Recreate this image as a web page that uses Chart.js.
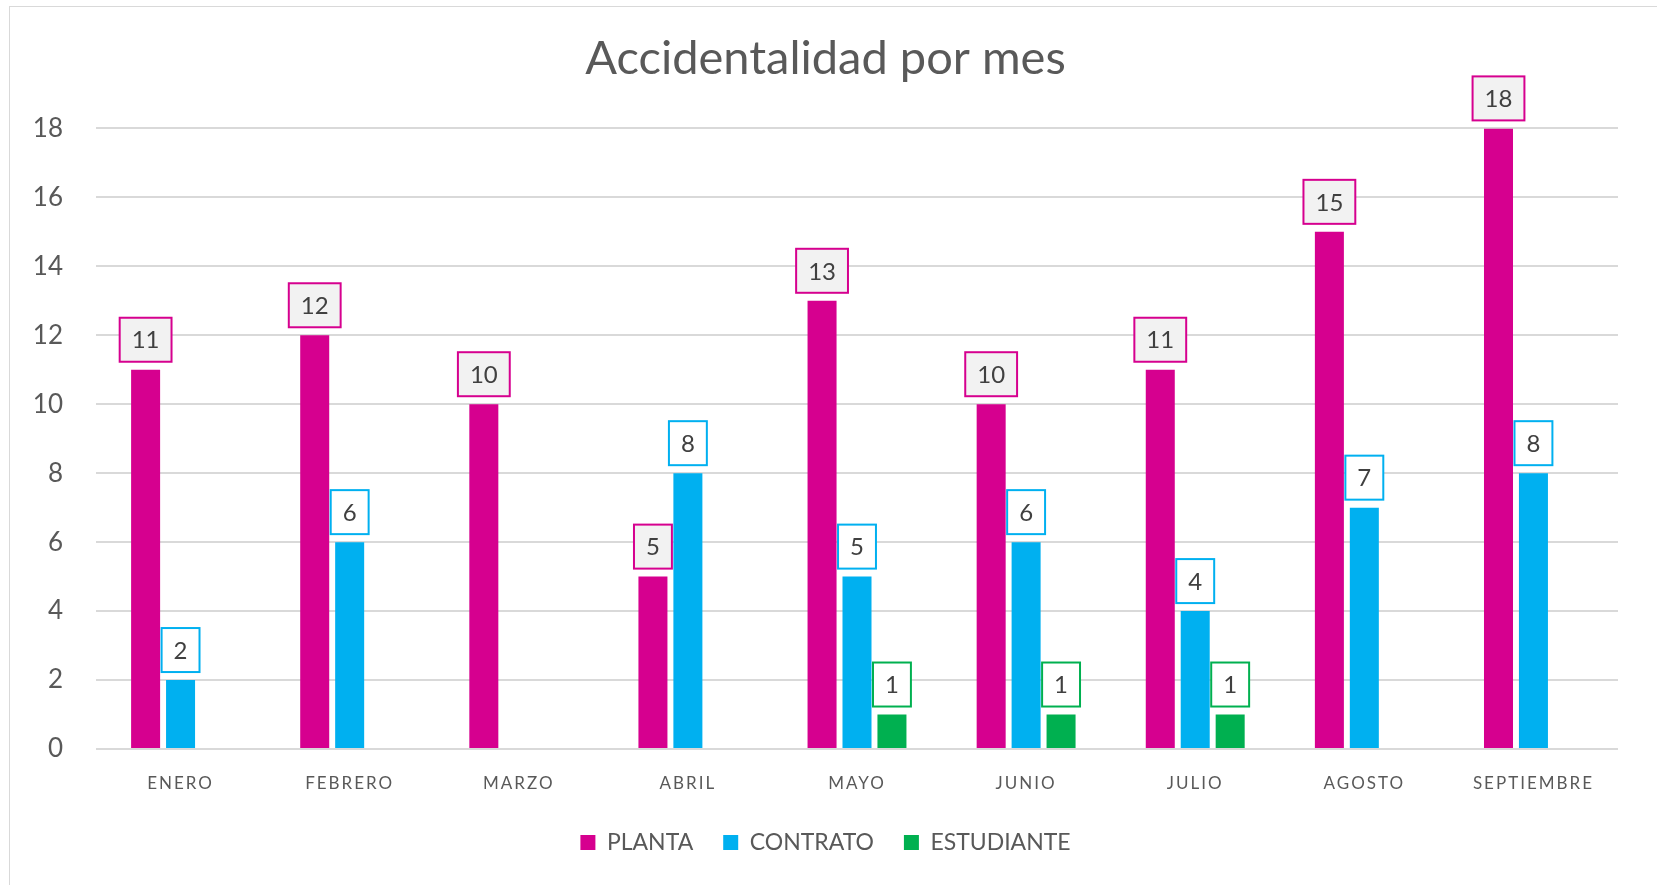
<!DOCTYPE html>
<html>
<head>
<meta charset="utf-8">
<script src="https://cdn.jsdelivr.net/npm/chart.js@4"></script>
<style>
  html, body { margin: 0; padding: 0; background: #fff; }
  #wrap { position: relative; width: 1657px; height: 885px; overflow: hidden; }
  #frame { position: absolute; left: 9px; top: 6px; width: 1660px; height: 900px; border: 1.5px solid #d9d9d9; box-sizing: border-box; pointer-events: none; }
  canvas { position: absolute; left: 0; top: 0; }
</style>
</head>
<body>
<div id="wrap">
  <canvas id="chart" width="1657" height="885"></canvas>
  <div id="frame"></div>
</div>
<script>
// Accidentalidad por mes -- barras agrupadas con etiquetas en recuadro
const months = ['ENERO', 'FEBRERO', 'MARZO', 'ABRIL', 'MAYO', 'JUNIO', 'JULIO', 'AGOSTO', 'SEPTIEMBRE'];
const planta = [11, 12, 10, 5, 13, 10, 11, 15, 18];
const contrato = [2, 6, null, 8, 5, 6, 4, 7, 8];
const estudiante = [null, null, null, null, 1, 1, 1, null, null];
const yTicks = [0, 2, 4, 6, 8, 10, 12, 14, 16, 18];

const FONT = 'Lato, "Open Sans", sans-serif';
const TEXT = '#595959';

// etiquetas de valor en recuadro sobre cada barra
const boxLabels = {
  id: 'boxLabels',
  beforeDatasetsDraw(chart) {
    chart.ctx.letterSpacing = '0px';
  },
  afterDatasetsDraw(chart) {
    const ctx = chart.ctx;
    ctx.save();
    ctx.font = '24px ' + FONT;
    ctx.textAlign = 'center';
    ctx.textBaseline = 'middle';
    chart.data.datasets.forEach((ds, i) => {
      const meta = chart.getDatasetMeta(i);
      meta.data.forEach((bar, j) => {
        const v = ds.data[j];
        if (v == null) return;
        const txt = String(v);
        const w = ctx.measureText(txt).width + 24;
        const h = 44;
        const x = bar.x - w / 2;
        const y = bar.y - 8 - h;
        ctx.fillStyle = ds.labelFill;
        ctx.fillRect(x, y, w, h);
        ctx.lineWidth = 2;
        ctx.strokeStyle = ds.backgroundColor;
        ctx.strokeRect(x, y, w, h);
        ctx.fillStyle = '#404040';
        ctx.fillText(txt, bar.x, y + h / 2 + 1);
      });
    });
    ctx.restore();
    // eje x con letras espaciadas (se dibuja despues de las barras)
    ctx.letterSpacing = '2px';
  },
  afterDraw(chart) {
    chart.ctx.letterSpacing = '0px';
  }
};

new Chart(document.getElementById('chart'), {
  type: 'bar',
  data: {
    labels: months,
    datasets: [
      { label: 'PLANTA', data: planta, backgroundColor: '#d6008f', labelFill: '#f2f2f2' },
      { label: 'CONTRATO', data: contrato, backgroundColor: '#00b0f0', labelFill: '#ffffff' },
      { label: 'ESTUDIANTE', data: estudiante, backgroundColor: '#00b050', labelFill: '#ffffff' }
    ]
  },
  options: {
    responsive: false,
    animation: false,
    devicePixelRatio: 1,
    layout: { padding: { top: 6, left: 33, right: 39, bottom: 21 } },
    datasets: { bar: { categoryPercentage: 0.62, barPercentage: 0.83 } },
    plugins: {
      title: {
        display: true,
        text: 'Accidentalidad por mes',
        color: TEXT,
        font: { family: FONT, size: 47, weight: 'normal' },
        padding: { top: 25, bottom: 41 }
      },
      legend: {
        position: 'bottom',
        labels: {
          color: TEXT,
          font: { family: FONT, size: 23 },
          boxWidth: 15,
          boxHeight: 15,
          padding: 30
        }
      },
      tooltip: { enabled: false }
    },
    scales: {
      x: {
        grid: { display: false, drawTicks: false },
        border: { display: false },
        ticks: { color: TEXT, font: { family: FONT, size: 17 }, padding: 24, z: 1, maxRotation: 0 },
        afterFit: s => { s.height = 52; }
      },
      y: {
        min: 0,
        max: 18,
        afterBuildTicks: s => { s.ticks = yTicks.map(v => ({ value: v })); },
        afterFit: s => { s.width = 63; },
        grid: { color: '#d9d9d9', lineWidth: 2, drawTicks: false },
        border: { display: false },
        ticks: { color: TEXT, font: { family: FONT, size: 26 }, padding: 33 }
      }
    }
  },
  plugins: [boxLabels]
});
</script>
</body>
</html>
